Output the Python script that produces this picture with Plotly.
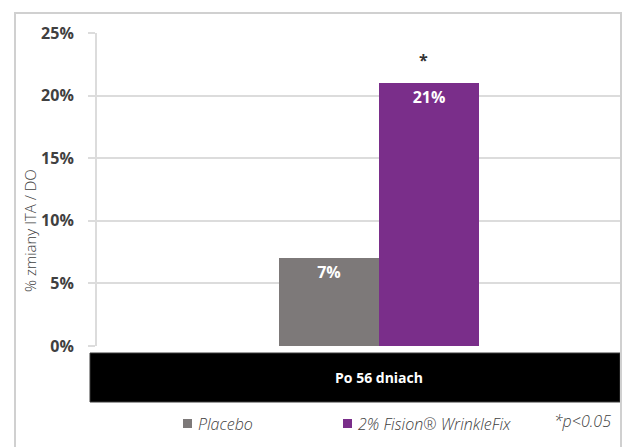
import plotly.graph_objects as go

categories = ["Po 56 dniach"]
series_names = ["Placebo", "2% Fision® WrinkleFix"]
series_colors = ["#7d7979", "#7a2e8a"]
placebo_values = [7]
fision_values = [21]
y_ticks = [0, 5, 10, 15, 20, 25]
y_tick_labels = ["0%", "5%", "10%", "15%", "20%", "25%"]

W, H = 635, 447
L, R, T, B = 97, 15, 33, 101
pw, ph = W - L - R, H - T - B

def px_x(x):
    return (x - L) / pw

def px_y(y):
    return (H - B - y) / ph

GRID = "#dcdcdc"
TXT = "#404040"

fig = go.Figure()
for name, vals, col in zip(series_names, [placebo_values, fision_values], series_colors):
    fig.add_trace(go.Bar(
        x=categories, y=vals, name=name,
        marker=dict(color=col, line=dict(width=0)),
        text=[f"{v}%" for v in vals], textposition="inside",
        insidetextanchor="end",
        textfont=dict(color="white", size=16, family="Open Sans", weight="bold"),
        showlegend=False,
    ))

fig.update_layout(
    width=W, height=H,
    margin=dict(l=L, r=R, t=T, b=B, autoexpand=False),
    paper_bgcolor="white", plot_bgcolor="white",
    barmode="group", bargap=0, bargroupgap=0,
    showlegend=False,
    font=dict(family="Open Sans"),
)

fig.update_xaxes(
    type="category", range=[-1.41, 1.205], showgrid=False, zeroline=False,
    showline=False, ticks="",
    tickfont=dict(color="white", size=14, family="Open Sans", weight="bold"),
    ticklabelstandoff=22, automargin=False, fixedrange=True,
)
fig.update_yaxes(
    range=[0, 25], tickvals=y_ticks, ticktext=y_tick_labels,
    showgrid=True, gridcolor=GRID, gridwidth=2, zeroline=False,
    showline=True, linecolor=GRID, linewidth=2,
    ticks="outside", ticklen=7, tickcolor=GRID, tickwidth=2,
    ticklabelstandoff=11,
    tickfont=dict(family="Open Sans", size=16, color=TXT, weight="bold"),
    automargin=False, fixedrange=True,
)

# y-axis title
fig.add_annotation(x=px_x(30), y=px_y(231), xref="paper", yref="paper",
                   text="% zmiany ITA / DO", textangle=-90, showarrow=False,
                   xanchor="center", yanchor="middle",
                   font=dict(family="Open Sans", size=15, color=TXT, weight=300))

# outer frame
fig.add_shape(type="rect", xref="paper", yref="paper",
              x0=px_x(15), x1=px_x(621), y0=px_y(455), y1=px_y(13),
              line=dict(color="#d0d0d0", width=2), fillcolor="rgba(0,0,0,0)", layer="above")
# category band
fig.add_shape(type="rect", xref="paper", yref="paper",
              x0=px_x(90), x1=1, y0=px_y(402), y1=px_y(353),
              line=dict(color="#3a3a3a", width=1), fillcolor="black", layer="below")

# legend (squares + labels)
legend_x = [183, 343]
for name, col, lx in zip(series_names, series_colors, legend_x):
    fig.add_shape(type="rect", xref="paper", yref="paper",
                  x0=px_x(lx), x1=px_x(lx + 9), y0=px_y(428), y1=px_y(419),
                  line=dict(width=0), fillcolor=col, layer="above")
    fig.add_annotation(x=px_x(lx + 13), y=px_y(424), xref="paper", yref="paper",
                       text=name, showarrow=False,
                       xanchor="left", yanchor="middle",
                       font=dict(family="Open Sans", size=16, color=TXT, style="italic", weight=300))

# significance marker
fig.add_annotation(x=categories[0], y=fision_values[0], xref="x", yref="y",
                   text="*", showarrow=False, xshift=44, yshift=23,
                   font=dict(family="Open Sans", size=16, color="#333333", weight="bold"))
fig.add_annotation(x=px_x(613), y=px_y(421), xref="paper", yref="paper",
                   text="*p<0.05", showarrow=False, xanchor="right", yanchor="middle",
                   font=dict(family="Open Sans", size=16, color=TXT, style="italic", weight=300))

fig.write_html("out.html", config={"displayModeBar": False},
               post_script="document.body.style.margin='0';")
